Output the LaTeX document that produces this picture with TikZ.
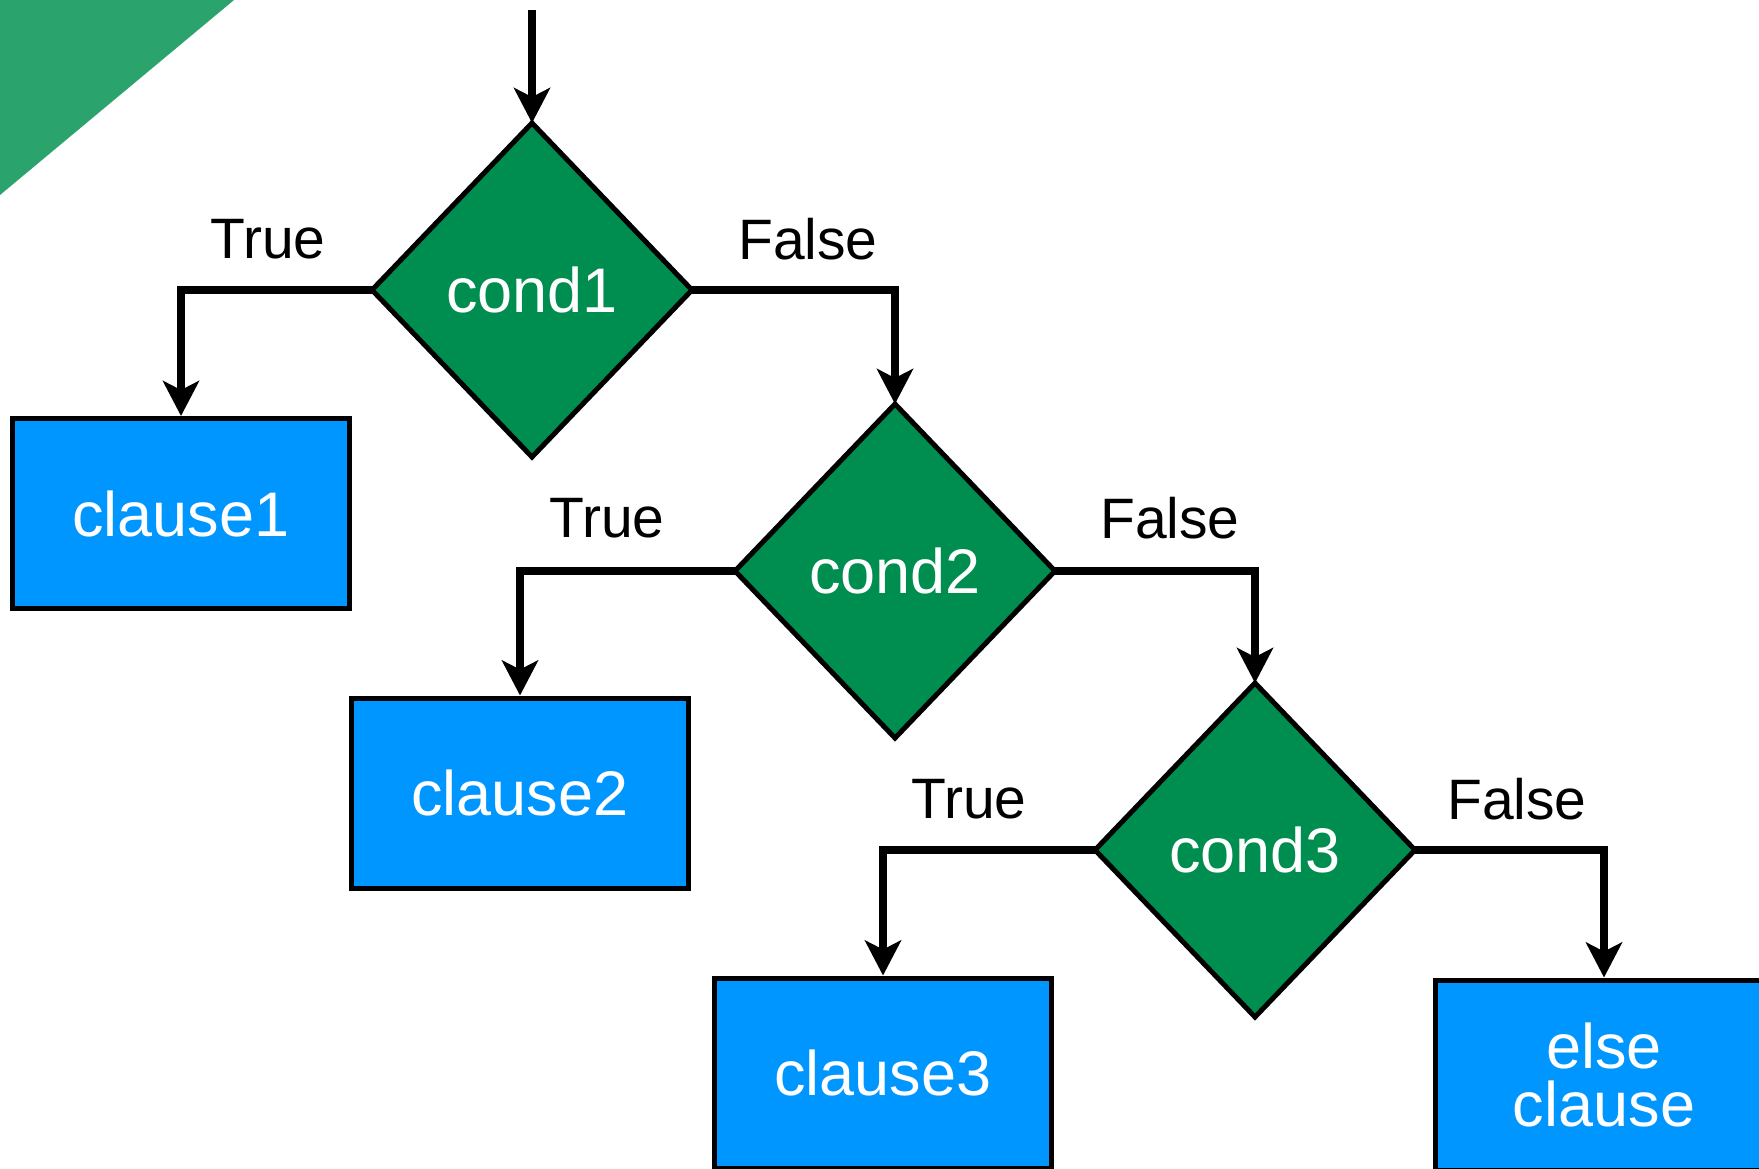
\documentclass[tikz,border=0pt]{standalone}
\usepackage{fontspec}
\setmainfont{Liberation Sans}
\usetikzlibrary{shapes.geometric,arrows.meta}
\definecolor{condgreen}{RGB}{0,142,80}
\definecolor{clauseblue}{RGB}{0,150,255}
\definecolor{bannergreen}{RGB}{42,163,108}
\tikzset{
  cond/.style={diamond, draw=black, line width=5pt, fill=condgreen,
    minimum width=320pt, minimum height=334pt, inner sep=0pt, outer sep=0pt,
    text=white, font=\fontsize{63}{70}\selectfont},
  clausebox/.style={rectangle, draw=black, line width=5pt, fill=clauseblue,
    minimum width=337pt, minimum height=190pt, inner sep=0pt,
    text=white, align=center, font=\fontsize{63}{58}\selectfont},
  conn/.style={draw=black, line width=7.5pt,
    -{Stealth[length=35pt, width=36pt, inset=9pt]}},
  branch/.style={text=black, font=\fontsize{57}{60}\selectfont, inner sep=0pt}
}
\begin{document}
\begin{tikzpicture}[x=1pt, y=-1pt]
\useasboundingbox (0,0) rectangle (1759,1168);
% corner banner
\fill[bannergreen] (0,0) -- (234,0) -- (0,195) -- cycle;

% decisions
\node[cond] (c1) at (532,290) {cond1};
\node[cond] (c2) at (895,571) {cond2};
\node[cond] (c3) at (1255,850) {cond3};

% clauses
\node[clausebox] (b1) at (181,513.5) {clause1};
\node[clausebox] (b2) at (520,793) {clause2};
\node[clausebox] (b3) at (883,1073) {clause3};
\node[clausebox] (b4) at (1604,1075) {else\\clause};

% entry
\coordinate (entry) at (532,10);
\draw[conn] (entry) -- (c1.north);

% branches
\draw[conn] (c1.west) -| (b1.north);
\draw[conn] (c1.east) -| (c2.north);
\draw[conn] (c2.west) -| (b2.north);
\draw[conn] (c2.east) -| (c3.north);
\draw[conn] (c3.west) -| (b3.north);
\draw[conn] (c3.east) -| (b4.north);

% branch labels
\node[branch] (t1) at (268,239) {True};
\node[branch] (f1) at (808,239) {False};
\node[branch] (t2) at (607,518) {True};
\node[branch] (f2) at (1170,518) {False};
\node[branch] (t3) at (969,799) {True};
\node[branch] (f3) at (1517,799) {False};
\end{tikzpicture}
\end{document}
